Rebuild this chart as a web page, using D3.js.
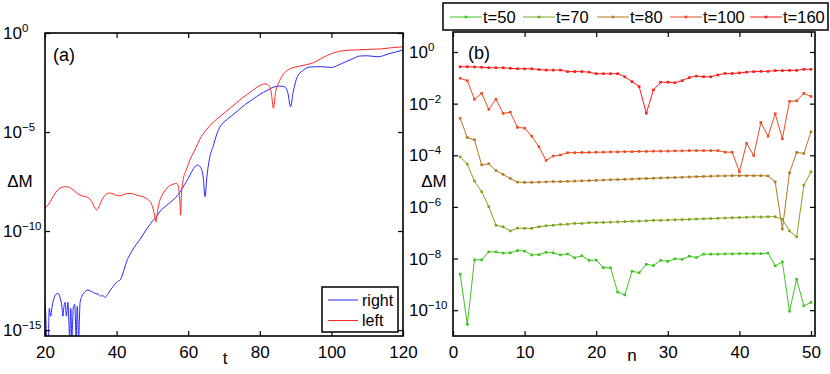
<!DOCTYPE html>
<html>
<head>
<meta charset="utf-8">
<script src="https://cdn.jsdelivr.net/npm/d3@7"></script>
<style>
  body { margin: 0; background: #fff; }
  text { font-family: "Liberation Sans", Arial, sans-serif; fill: #000; }
</style>
</head>
<body>
<svg id="chart" width="830" height="374"></svg>
<script>
// ---- panel (a): dM vs t, values read as log10 exponents ----
const tLeft = [20, 21, 22, 23, 24, 25, 26, 27, 28, 29, 30, 31, 32, 33, 34, 34.4, 35, 36, 37, 38, 39, 40, 41, 42, 43, 44, 45, 46, 47, 48, 49, 50, 50.6, 51, 51.5, 52, 53, 54, 55, 56, 56.8, 57.3, 57.7, 57.9, 58.1, 58.6, 59.5, 60.5, 62, 63.3, 65, 67, 69, 72, 75, 78, 80, 81.5, 82.5, 83.2, 83.8, 84.4, 85.2, 86.5, 88, 90, 93, 95, 97, 99, 101, 103, 106, 110, 114, 117, 120];
const leftExp = [-8.85, -8.65, -8.35, -8.05, -7.85, -7.78, -7.76, -7.82, -7.95, -8.1, -8.2, -8.25, -8.3, -8.5, -8.85, -8.94, -8.8, -8.4, -8.15, -8.08, -8.12, -8.2, -8.22, -8.15, -8.1, -8.1, -8.15, -8.2, -8.25, -8.32, -8.45, -8.75, -9.2, -9.55, -8.9, -8.5, -8.1, -7.85, -7.7, -7.62, -7.6, -7.8, -8.6, -9.2, -8.2, -7.4, -6.9, -6.4, -5.85, -5.35, -4.9, -4.5, -4.2, -3.75, -3.3, -2.9, -2.65, -2.57, -2.65, -3.0, -3.8, -3.0, -2.55, -2.1, -1.85, -1.72, -1.6, -1.5, -1.3, -1.12, -0.98, -0.9, -0.86, -0.83, -0.8, -0.74, -0.7];

const tRight = [20, 20.2, 20.45, 20.9, 21.2, 21.6, 22.0, 22.5, 23.0, 23.6, 24.2, 24.7, 25.0, 25.3, 25.6, 26.0, 26.4, 26.9, 27.2, 27.5, 27.9, 28.3, 28.7, 29.0, 29.4, 29.8, 30.3, 31, 32, 33, 34, 35, 35.6, 36, 36.8, 37.5, 38.2, 39, 40, 41, 42, 43, 44, 45, 46, 47, 48, 49, 50, 51, 52, 53, 54, 55, 56, 57, 58, 59, 60, 61, 62, 62.7, 63.5, 64.2, 64.7, 65.2, 66, 67, 68, 69, 70, 72, 74, 76, 78, 80, 82, 84, 85.5, 87, 87.8, 88.6, 89.3, 90.5, 92, 94, 97, 100, 102, 104, 106, 108, 110, 113, 116, 120];
const rightExp = [-13.57, -14.2, -15.4, -15.4, -13.9, -14.3, -13.8, -13.4, -13.2, -13.15, -13.35, -13.8, -14.3, -13.8, -13.6, -14.3, -13.6, -15.4, -13.9, -15.4, -13.9, -13.7, -15.4, -13.8, -15.4, -13.6, -13.3, -13.1, -12.98, -13.05, -13.15, -13.2, -13.3, -13.25, -13.35, -13.2, -13.0, -12.8, -12.58, -12.47, -12.0, -11.45, -11.1, -10.8, -10.55, -10.3, -10.0, -9.75, -9.5, -9.3, -9.04, -8.85, -8.7, -8.55, -8.4, -8.2, -7.95, -7.65, -7.35, -7.0, -6.72, -6.67, -6.8, -7.3, -8.27, -7.3, -6.3, -5.7, -5.1, -4.7, -4.5, -4.2, -3.9, -3.6, -3.35, -3.1, -2.9, -2.72, -2.68, -2.72, -3.0, -3.72, -3.0, -2.2, -1.9, -1.72, -1.7, -1.74, -1.62, -1.45, -1.3, -1.16, -1.15, -1.2, -1.05, -0.86];

const tTicksA = [20, 40, 60, 80, 100, 120];
const logTicksA = [0, -5, -10, -15];

// ---- panel (b): dM vs n, log10 exponents ----
const nSites = d3.range(1, 51);
const exp50 = [-8.60, -10.55, -8.05, -8.05, -7.74, -7.74, -7.79, -7.78, -7.69, -7.71,
  -7.86, -7.85, -7.76, -7.78, -7.86, -7.82, -7.97, -7.89, -8.07, -8.06,
  -8.35, -8.36, -9.30, -9.41, -8.49, -8.55, -8.22, -8.27, -8.07, -8.11,
  -8.01, -8.03, -7.91, -7.96, -7.83, -7.83, -7.83, -7.82, -7.82, -7.81,
  -7.81, -7.81, -7.81, -7.79, -8.28, -8.13, -10.04, -8.80, -9.83, -9.70];
const exp70 = [-4.06, -4.34, -5.00, -5.41, -5.99, -6.71, -6.77, -6.93, -6.82, -6.83,
  -6.83, -6.77, -6.73, -6.71, -6.68, -6.67, -6.64, -6.64, -6.61, -6.61,
  -6.60, -6.59, -6.58, -6.57, -6.56, -6.55, -6.54, -6.52, -6.52, -6.51,
  -6.50, -6.49, -6.48, -6.47, -6.46, -6.45, -6.44, -6.43, -6.42, -6.41,
  -6.40, -6.39, -6.39, -6.38, -6.38, -6.48, -6.93, -7.16, -5.16, -4.64];
const exp80 = [-2.57, -3.31, -3.40, -4.37, -4.33, -4.59, -4.74, -4.90, -5.04, -5.05,
  -5.05, -5.04, -5.03, -5.02, -5.02, -5.01, -5.00, -4.99, -4.98, -4.97,
  -4.96, -4.95, -4.94, -4.93, -4.92, -4.91, -4.90, -4.89, -4.88, -4.87,
  -4.86, -4.85, -4.84, -4.83, -4.82, -4.81, -4.80, -4.80, -4.79, -4.79,
  -4.79, -4.79, -4.79, -4.80, -5.03, -6.86, -4.68, -3.89, -3.93, -3.09];
const exp100 = [-1.02, -1.11, -1.83, -1.60, -2.22, -1.83, -2.38, -2.33, -2.92, -2.95,
  -3.26, -3.67, -4.20, -4.03, -3.99, -3.90, -3.90, -3.89, -3.89, -3.88,
  -3.88, -3.87, -3.87, -3.86, -3.86, -3.85, -3.85, -3.84, -3.84, -3.84,
  -3.83, -3.83, -3.82, -3.82, -3.82, -3.82, -3.82, -3.88, -3.88, -4.64,
  -3.54, -4.01, -2.73, -3.26, -2.39, -3.36, -1.91, -1.89, -1.60, -1.72];
const exp160 = [-0.57, -0.57, -0.58, -0.59, -0.61, -0.61, -0.61, -0.63, -0.65, -0.65,
  -0.65, -0.68, -0.70, -0.70, -0.70, -0.76, -0.76, -0.76, -0.78, -0.84,
  -0.84, -0.84, -0.84, -0.96, -1.15, -1.34, -2.37, -1.47, -1.17, -1.17,
  -1.19, -1.11, -0.99, -0.93, -0.96, -0.96, -0.89, -0.83, -0.83, -0.81,
  -0.78, -0.76, -0.75, -0.75, -0.72, -0.72, -0.71, -0.71, -0.67, -0.67];

const seriesNames = ['t=50', 't=70', 't=80', 't=100', 't=160'];
const seriesColors = ['#3fc41f', '#7fa620', '#b27a22', '#ec4a22', '#ff1a1a'];
const seriesExp = [exp50, exp70, exp80, exp100, exp160];

const nTicks = [0, 10, 20, 30, 40, 50];
const logTicksB = [0, -2, -4, -6, -8, -10];

const svg = d3.select('#chart');

// log tick label: base "10" starts at a fixed x, exponent hangs to the right
function powLabel(sel, x0) {
  sel.each(function(d) {
    const e = Math.round(Math.log10(d));
    const t = d3.select(this).text(null)
      .attr('text-anchor', 'start').attr('x', x0);
    t.append('tspan').text('10');
    t.append('tspan').attr('dy', '-0.6em').style('font-size', '11.5px')
      .text(e === 0 ? '0' : '\u2212' + Math.abs(e));
  });
}

function frame(g, x, y, box, xt, yt, labelX) {
  const [l, r, top, b] = box;
  g.append('g').attr('transform', `translate(0,${b})`)
    .call(d3.axisBottom(x).tickValues(xt).tickSizeInner(-5).tickSizeOuter(0).tickPadding(10))
    .call(a => a.select('.domain').remove())
    .selectAll('text').style('font-size', '17px');
  g.append('g').attr('transform', `translate(0,${top})`)
    .call(d3.axisTop(x).tickValues(xt).tickSizeInner(-5).tickSizeOuter(0).tickFormat(''))
    .call(a => a.select('.domain').remove());
  g.append('g').attr('transform', `translate(${l},0)`)
    .call(d3.axisLeft(y).tickValues(yt).tickSizeInner(-5).tickSizeOuter(0))
    .call(a => a.select('.domain').remove())
    .selectAll('.tick text').style('font-size', '17px').call(powLabel, labelX - l);
  g.append('g').attr('transform', `translate(${r},0)`)
    .call(d3.axisRight(y).tickValues(yt).tickSizeInner(-5).tickSizeOuter(0).tickFormat(''))
    .call(a => a.select('.domain').remove());
  g.selectAll('.tick line').attr('stroke', '#000').attr('stroke-width', 1.2);
  g.append('rect').attr('x', l).attr('y', top).attr('width', r - l).attr('height', b - top)
    .attr('fill', 'none').attr('stroke', '#000').attr('stroke-width', 1.6);
}

// ---------------- panel (a) ----------------
const boxA = [45, 403, 33, 336];
const xa = d3.scaleLinear().domain([20, 120]).range([boxA[0], boxA[1]]);
const ya = d3.scaleLog().domain([Math.pow(10, -15.3), 1]).range([boxA[3], boxA[2]]);

svg.append('clipPath').attr('id', 'clipA').append('rect')
  .attr('x', boxA[0]).attr('y', boxA[2]).attr('width', boxA[1] - boxA[0]).attr('height', boxA[3] - boxA[2]);

const gA = svg.append('g');
const lineA = d3.line().x(d => xa(d[0])).y(d => ya(d[1])).curve(d3.curveMonotoneX);
const rightPts = tRight.map((t, i) => [t, Math.pow(10, rightExp[i])]);
const leftPts = tLeft.map((t, i) => [t, Math.pow(10, leftExp[i])]);

gA.append('g').attr('clip-path', 'url(#clipA)').selectAll('path')
  .data([{pts: rightPts, c: '#2828ff'}, {pts: leftPts, c: '#ff2828'}])
  .join('path')
    .attr('d', d => lineA(d.pts))
    .attr('fill', 'none')
    .attr('stroke', d => d.c)
    .attr('stroke-width', 1);

frame(gA, xa, ya, boxA, tTicksA, logTicksA.map(e => Math.pow(10, e)), 3);

gA.append('text').attr('x', 53).attr('y', 55).attr('dy', '0.35em')
  .style('font-size', '18px').text('(a)');
gA.append('text').attr('x', 20).attr('y', 181).attr('dy', '0.35em')
  .attr('text-anchor', 'middle').style('font-size', '17px').text('\u0394M');
gA.append('text').attr('x', 225).attr('y', 358).attr('dy', '0.35em')
  .attr('text-anchor', 'middle').style('font-size', '17px').text('t');

// legend (a)
const legA = gA.append('g');
legA.append('rect').attr('x', 322).attr('y', 287).attr('width', 76).attr('height', 45)
  .attr('fill', '#fff').attr('stroke', '#000').attr('stroke-width', 1.5);
legA.selectAll('g.item')
  .data([{name: 'right', c: '#2828ff'}, {name: 'left', c: '#ff2828'}])
  .join('g').attr('class', 'item')
    .attr('transform', (d, i) => `translate(0, ${300 + i * 20.5})`)
    .each(function(d) {
      const it = d3.select(this);
      it.append('line').attr('x1', 328).attr('x2', 358).attr('stroke', d.c).attr('stroke-width', 1);
      it.append('text').attr('x', 362).attr('dy', '0.35em').style('font-size', '16px').text(d.name);
    });

// ---------------- panel (b) ----------------
const boxB = [453, 815, 32, 336];
const xb = d3.scaleLinear().domain([0, 50.56]).range([boxB[0], boxB[1]]);
const yb = d3.scaleLog().domain([1e-11, Math.pow(10, 0.775)]).range([boxB[3], boxB[2]]);

svg.append('clipPath').attr('id', 'clipB').append('rect')
  .attr('x', boxB[0]).attr('y', boxB[2]).attr('width', boxB[1] - boxB[0]).attr('height', boxB[3] - boxB[2]);

const gB = svg.append('g');
const lineB = d3.line().x(d => xb(d[0])).y(d => yb(d[1]));
const seriesB = seriesExp.map((arr, k) => ({
  name: seriesNames[k],
  c: seriesColors[k],
  pts: nSites.map((n, i) => [n, Math.pow(10, arr[i])])
}));

const plotB = gB.append('g').attr('clip-path', 'url(#clipB)');
const sg = plotB.selectAll('g.series').data(seriesB).join('g').attr('class', 'series');
sg.append('path')
  .attr('d', d => lineB(d.pts))
  .attr('fill', 'none')
  .attr('stroke', d => d.c)
  .attr('stroke-width', 1);
sg.selectAll('rect')
  .data(d => d.pts.map(p => ({p, c: d.c})))
  .join('rect')
    .attr('x', d => xb(d.p[0]) - 1.3)
    .attr('y', d => yb(d.p[1]) - 1.3)
    .attr('width', 2.6).attr('height', 2.6)
    .attr('fill', d => d.c);

frame(gB, xb, yb, boxB, nTicks, logTicksB.map(e => Math.pow(10, e)), 409);

gB.append('text').attr('x', 468).attr('y', 53).attr('dy', '0.35em')
  .style('font-size', '18px').text('(b)');
gB.append('text').attr('x', 434).attr('y', 181).attr('dy', '0.35em')
  .attr('text-anchor', 'middle').style('font-size', '17px').text('\u0394M');
gB.append('text').attr('x', 632).attr('y', 355).attr('dy', '0.35em')
  .attr('text-anchor', 'middle').style('font-size', '17px').text('n');

// legend (b)
const legB = gB.append('g');
legB.append('rect').attr('x', 443).attr('y', 3).attr('width', 385).attr('height', 27)
  .attr('fill', '#fff').attr('stroke', '#000').attr('stroke-width', 1.5);
const legX = [450, 523, 597, 670, 750];
legB.selectAll('g.item').data(seriesB).join('g').attr('class', 'item')
  .attr('transform', (d, i) => `translate(${legX[i]}, 17)`)
  .each(function(d) {
    const it = d3.select(this);
    it.append('line').attr('x1', 0).attr('x2', 32).attr('stroke', d.c).attr('stroke-width', 1);
    it.append('rect').attr('x', 14.7).attr('y', -1.3).attr('width', 2.6).attr('height', 2.6).attr('fill', d.c);
    it.append('text').attr('x', 33).attr('dy', '0.35em').style('font-size', '16.5px').text(d.name);
  });
</script>
</body>
</html>
